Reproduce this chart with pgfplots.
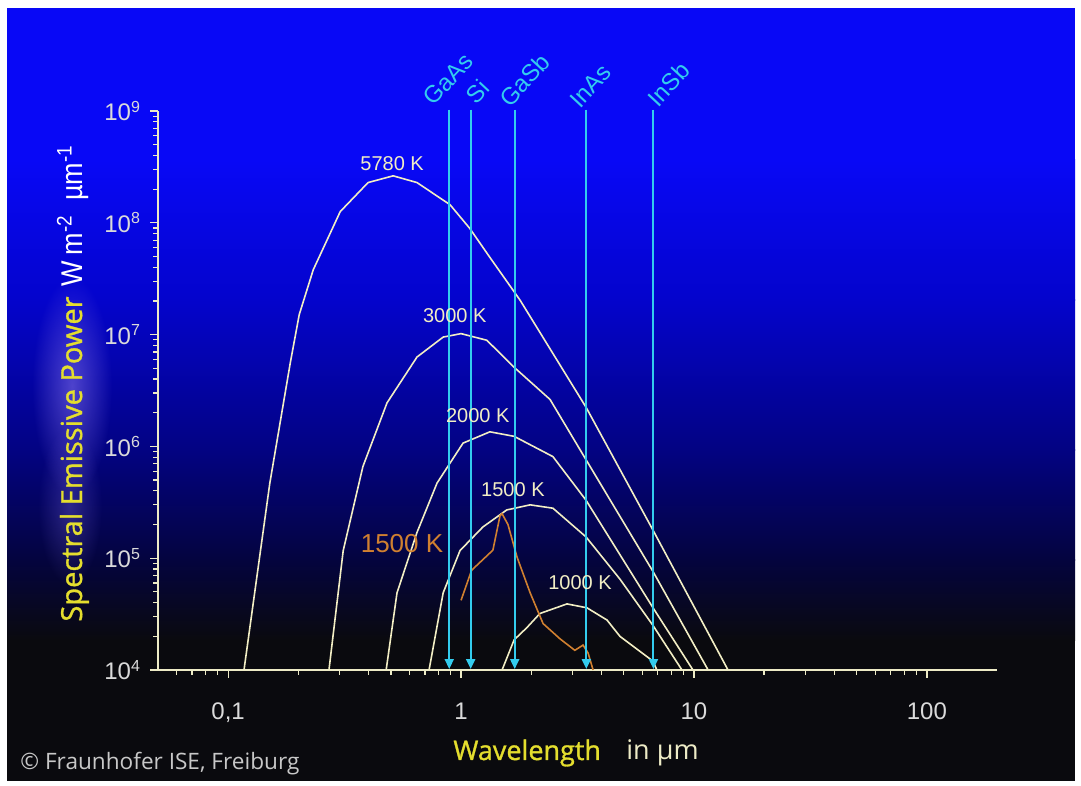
\documentclass[border=0pt]{standalone}
\usepackage{pgfplots}
\pgfplotsset{compat=1.18}
\usepackage{fontspec}
\setmainfont{Liberation Sans}
\newfontfamily\osans{Open Sans}
\newfontfamily\osansb[FakeBold=1.1]{Open Sans}
\newfontfamily\narrow[FakeStretch=0.9]{Liberation Sans}
\usetikzlibrary{arrows.meta,fadings}
\tikzfading[name=softfade, inner color=transparent!0, outer color=transparent!100]
\definecolor{curve}{HTML}{F2EEC4}
\definecolor{cyanl}{HTML}{33CCEE}
\definecolor{yel}{HTML}{E4DE2E}
\definecolor{orng}{HTML}{D08030}
\definecolor{axcol}{HTML}{EDEBC6}
\definecolor{lbl}{HTML}{DADADA}
\definecolor{bg0}{HTML}{0808F6}
\definecolor{bg1}{HTML}{0404CC}
\definecolor{bg2}{HTML}{030382}
\definecolor{bg3}{HTML}{04043E}
\definecolor{bg4}{HTML}{0A0A0E}
\definecolor{glow}{HTML}{8C78F0}
\begin{document}
\begin{tikzpicture}
% background
\fill[white] (0,0) rectangle (540.5pt,393pt);
\fill[bg0] (3.5pt,313pt) rectangle (537.5pt,389pt);
\shade[top color=bg0,bottom color=bg1] (3.5pt,242.5pt) rectangle (537.5pt,313.2pt);
\shade[top color=bg1,bottom color=bg2] (3.5pt,167.5pt) rectangle (537.5pt,243pt);
\shade[top color=bg2,bottom color=bg3] (3.5pt,112.5pt) rectangle (537.5pt,168pt);
\shade[top color=bg3,bottom color=bg4] (3.5pt,72.5pt) rectangle (537.5pt,113pt);
\fill[bg4] (3.5pt,2.5pt) rectangle (537.5pt,73pt);
% soft glow behind the y title
\fill[glow, opacity=0.55, path fading=softfade] (36pt,200pt) ellipse (20pt and 55pt);
\fill[glow, opacity=0.3, path fading=softfade] (35pt,140pt) ellipse (16pt and 40pt);

\begin{axis}[
  at={(79pt,58pt)}, anchor=south west, scale only axis,
  width=419.5pt, height=279.5pt,
  xmode=log, ymode=log,
  xmin=0.05, xmax=200, ymin=1e4, ymax=1e9,
  axis lines=left, axis line style={axcol, line width=0.9pt, -},
  tick align=outside,
  major tick length=4pt, minor tick length=2.5pt,
  every tick/.style={axcol, line width=0.6pt},
  xtick={0.1,1,10,100}, xticklabels={{0,1},1,10,100},
  minor xtick={0.06,0.07,0.08,0.09,0.2,0.3,0.4,0.5,0.6,0.7,0.8,0.9,2,3,4,5,6,7,8,9,20,30,40,50,60,70,80,90},
  ytick={1e4,1e5,1e6,1e7,1e8,1e9},
  yticklabels={10\textsuperscript{4},10\textsuperscript{5},10\textsuperscript{6},10\textsuperscript{7},10\textsuperscript{8},10\textsuperscript{9}},
  minor ytick={2e4,3e4,4e4,5e4,6e4,7e4,8e4,9e4,2e5,3e5,4e5,5e5,6e5,7e5,8e5,9e5,2e6,3e6,4e6,5e6,6e6,7e6,8e6,9e6,2e7,3e7,4e7,5e7,6e7,7e7,8e7,9e7,2e8,3e8,4e8,5e8,6e8,7e8,8e8,9e8},
  ticklabel style={font=\fontsize{12}{12}\selectfont, text=lbl},
  xticklabel style={yshift=-9pt},
  yticklabel style={xshift=-1pt},
  clip=false,
]
% Planck curves
\addplot[curve, line width=0.8pt] coordinates {(0.117,1e4) (0.151,4.68e5) (0.185,5.62e6) (0.202,1.51e7) (0.232,3.80e7) (0.303,1.26e8) (0.399,2.29e8) (0.511,2.63e8) (0.647,2.29e8) (0.897,1.45e8) (1.09,8.91e7) (1.33,4.90e7) (1.79,2.04e7) (3.44,2.24e6) (6.67,1.78e5) (14.0,1e4)};
\addplot[curve, line width=0.8pt] coordinates {(0.271,1e4) (0.312,1.17e5) (0.379,6.6e5) (0.481,2.45e6) (0.647,6.3e6) (0.838,9.5e6) (1.0,1.02e7) (1.29,8.9e6) (1.69,5.1e6) (2.41,2.63e6) (3.44,7.6e5) (6.67,7.6e4) (11.5,1e4)};
\addplot[curve, line width=0.8pt] coordinates {(0.477,1e4) (0.531,4.9e4) (0.647,1.7e5) (0.789,4.7e5) (1.02,1.07e6) (1.33,1.35e6) (1.69,1.23e6) (2.48,8.1e5) (3.44,3.3e5) (6.67,3.6e4) (9.9,1e4)};
\addplot[curve, line width=0.8pt] coordinates {(0.729,1e4) (0.838,4.9e4) (0.99,1.17e5) (1.24,1.9e5) (1.57,2.7e5) (1.98,3.0e5) (2.48,2.8e5) (3.44,1.55e5) (4.81,6.5e4) (6.67,2.5e4) (8.88,1e4)};
\addplot[curve, line width=0.8pt] coordinates {(1.50,1e4) (1.69,1.86e4) (1.92,2.4e4) (2.18,3.2e4) (2.85,3.9e4) (3.47,3.6e4) (4.23,2.8e4) (4.81,2.0e4) (6.67,1.2e4) (6.93,1e4)};
% measured emitter
\addplot[orng, line width=0.8pt] coordinates {(1.0,4.2e4) (1.11,7.8e4) (1.37,1.18e5) (1.47,2.4e5) (1.50,2.5e5) (1.59,2.0e5) (1.74,1.02e5) (1.98,4.9e4) (2.25,2.6e4) (2.66,1.9e4) (3.08,1.5e4) (3.34,1.67e4) (3.51,1.42e4) (3.69,1e4)};
% band gap arrows
\addplot[cyanl, line width=1pt, -{Triangle[length=5pt,width=4.5pt]}] coordinates {(0.89,1.03e9) (0.89,1.02e4)};
\addplot[cyanl, line width=1pt, -{Triangle[length=5pt,width=4.5pt]}] coordinates {(1.1,1.03e9) (1.1,1.02e4)};
\addplot[cyanl, line width=1pt, -{Triangle[length=5pt,width=4.5pt]}] coordinates {(1.7,1.03e9) (1.7,1.02e4)};
\addplot[cyanl, line width=1pt, -{Triangle[length=5pt,width=4.5pt]}] coordinates {(3.45,1.03e9) (3.45,1.02e4)};
\addplot[cyanl, line width=1pt, -{Triangle[length=5pt,width=4.5pt]}] coordinates {(6.7,1.03e9) (6.7,1.02e4)};
\begin{scope}[every node/.style={cyanl, rotate=47, anchor=base west, inner sep=0pt, font=\fontsize{12}{12}\selectfont}]
\node at (axis cs:0.758,1.08e9) {GaAs};
\node at (axis cs:1.16,1.12e9) {Si};
\node at (axis cs:1.62,1.05e9) {GaSb};
\node at (axis cs:3.24,1.03e9) {InAs};
\node at (axis cs:7.0,1.05e9) {InSb};
\end{scope}
\begin{scope}[every node/.style={curve, font=\fontsize{10}{10}\selectfont}]
\node at (axis cs:0.506,3.4e8) {5780 K};
\node at (axis cs:0.94,1.48e7) {3000 K};
\node at (axis cs:1.18,1.9e6) {2000 K};
\node at (axis cs:1.67,4.1e5) {1500 K};
\node at (axis cs:3.24,6.0e4) {1000 K};
\end{scope}
\node[orng, font=\fontsize{13}{13}\selectfont] at (axis cs:0.558,1.35e5) {1500 K};
\end{axis}

% axis titles
\node[rotate=90, anchor=base west, inner sep=0pt] at (41pt,82pt)
  {{\osansb\fontsize{14.5}{14.5}\selectfont\color{yel}Spectral Emissive Power}\hspace{5pt}{\narrow\fontsize{15}{15}\selectfont\color{white}W\hspace{3pt}m\textsuperscript{-2}\hspace{7pt}µm\textsuperscript{-1}}};
\node[anchor=base west, inner sep=0pt, yel] at (226.5pt,13pt) {\osansb\fontsize{13.5}{13.5}\selectfont Wavelength};
\node[anchor=base west, inner sep=0pt, axcol] at (313pt,13pt) {\osans\fontsize{13.5}{13.5}\selectfont in µm};
\node[anchor=base west, inner sep=0pt, text=lbl!80!gray] at (10pt,8pt) {\osans\fontsize{11.3}{11.3}\selectfont © Fraunhofer ISE, Freiburg};
\end{tikzpicture}
\end{document}
